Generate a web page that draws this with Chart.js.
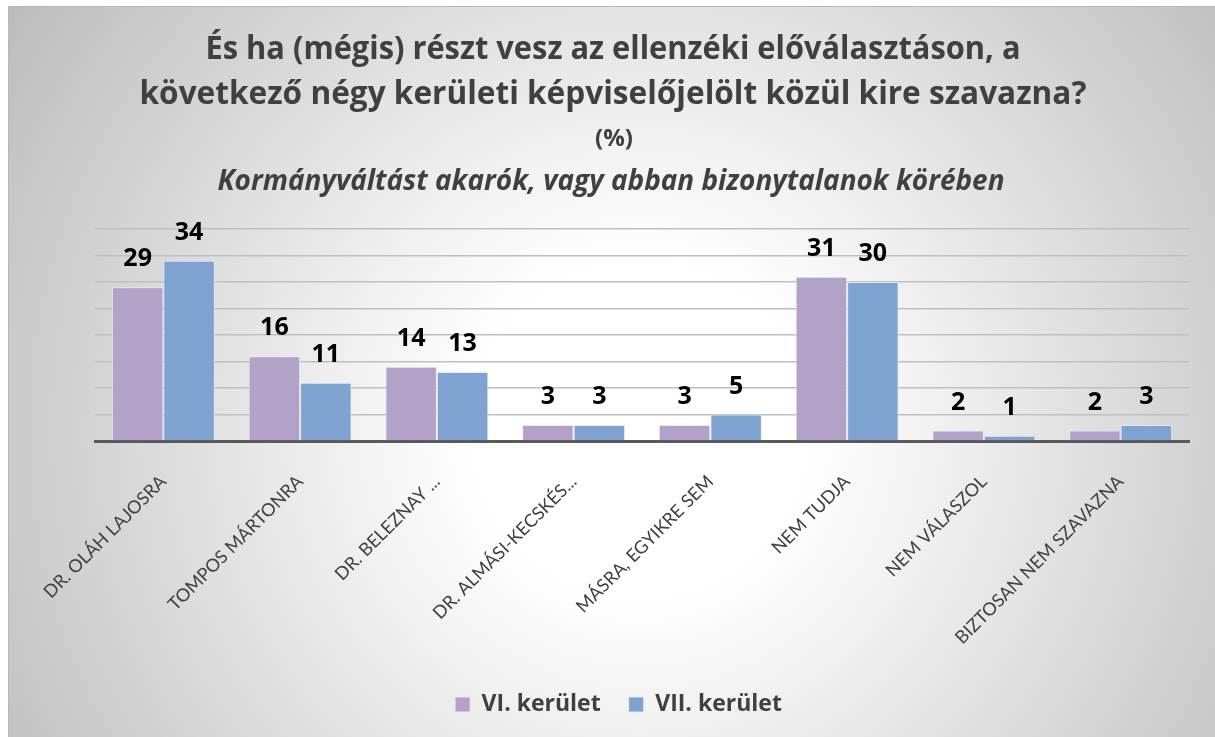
<!DOCTYPE html>
<html>
<head>
<meta charset="utf-8">
<script src="https://cdn.jsdelivr.net/npm/chart.js@4/dist/chart.umd.min.js"></script>
<style>
  html, body { margin: 0; padding: 0; background: #ffffff; }
  #wrap { width: 1215px; height: 737px; position: relative; }
</style>
</head>
<body>
<div id="wrap"><canvas id="c" width="1215" height="737"></canvas></div>
<script>
const categories = ['DR. OLÁH LAJOSRA', 'TOMPOS MÁRTONRA', 'DR. BELEZNAY ...', 'DR. ALMÁSI-KECSKÉS...', 'MÁSRA, EGYIKRE SEM', 'NEM TUDJA', 'NEM VÁLASZOL', 'BIZTOSAN NEM SZAVAZNA'];
const seriesNames = ['VI. kerület', 'VII. kerület'];
const valuesVI = [29, 16, 14, 3, 3, 31, 2, 2];
const valuesVII = [34, 11, 13, 3, 5, 30, 1, 3];
const titleLines = ['És ha (mégis) részt vesz az ellenzéki előválasztáson, a', 'következő négy kerületi képviselőjelölt közül kire szavazna?'];
const unitLine = '(%)';
const subtitleLine = 'Kormányváltást akarók, vagy abban bizonytalanok körében';

const FONT = '"Open Sans", Lato, sans-serif';
const TICKFONT = 'Lato, "Open Sans", sans-serif';

const bgPlugin = {
  id: 'bg',
  beforeDraw(chart) {
    const ctx = chart.ctx;
    ctx.save();
    ctx.fillStyle = '#ffffff';
    ctx.fillRect(0, 0, chart.width, chart.height);
    const g = ctx.createRadialGradient(640, 430, 0, 640, 430, 760);
    g.addColorStop(0, '#ffffff');
    g.addColorStop(0.22, '#ffffff');
    g.addColorStop(1, '#bcbcbc');
    ctx.fillStyle = g;
    ctx.fillRect(8, 6, chart.width - 8, chart.height - 6);
    ctx.strokeStyle = '#b8b8b8';
    ctx.lineWidth = 1;
    ctx.beginPath();
    ctx.moveTo(8.5, chart.height);
    ctx.lineTo(8.5, 6.5);
    ctx.lineTo(chart.width, 6.5);
    ctx.stroke();
    ctx.restore();
  },
  afterDraw(chart) {
    const ctx = chart.ctx;
    ctx.save();
    ctx.fillStyle = '#404040';
    ctx.textAlign = 'center';
    ctx.textBaseline = 'middle';
    ctx.font = 'bold 32px ' + FONT;
    ctx.fillText(titleLines[0], 613, 50, 815);
    ctx.fillText(titleLines[1], 613, 95, 947);
    ctx.font = 'bold 24px ' + FONT;
    ctx.fillText(unitLine, 614, 139);
    ctx.font = 'italic bold 28px ' + FONT;
    ctx.fillText(subtitleLine, 611, 182, 787);
    ctx.restore();
  }
};

const labelPlugin = {
  id: 'valueLabels',
  afterDatasetsDraw(chart) {
    const ctx = chart.ctx;
    ctx.save();
    ctx.fillStyle = '#000000';
    ctx.font = 'bold 25px ' + FONT;
    ctx.textAlign = 'center';
    ctx.textBaseline = 'middle';
    chart.data.datasets.forEach((ds, di) => {
      const meta = chart.getDatasetMeta(di);
      meta.data.forEach((el, i) => {
        ctx.fillText(String(ds.data[i]), el.x, el.y - 28);
      });
    });
    ctx.restore();
  }
};

new Chart(document.getElementById('c'), {
  type: 'bar',
  data: {
    labels: categories,
    datasets: [
      { label: seriesNames[0], data: valuesVI, backgroundColor: '#B2A2C8', borderColor: 'rgba(235,230,245,0.9)', borderWidth: 1 },
      { label: seriesNames[1], data: valuesVII, backgroundColor: '#7EA3D0', borderColor: 'rgba(225,235,248,0.9)', borderWidth: 1 }
    ]
  },
  options: {
    responsive: false,
    animation: false,
    devicePixelRatio: 1,
    layout: { padding: { top: 229, left: 22, right: 0, bottom: 11 } },
    datasets: { bar: { categoryPercentage: 0.753, barPercentage: 1 } },
    plugins: {
      title: { display: false },
      tooltip: { enabled: false },
      legend: {
        position: 'bottom',
        labels: {
          color: '#404040',
          font: { family: FONT, size: 23, weight: 'bold' },
          boxWidth: 15,
          boxHeight: 15,
          padding: 28
        }
      }
    },
    scales: {
      x: {
        grid: { display: false, drawTicks: false },
        border: { display: true, color: '#595959', width: 3 },
        ticks: {
          autoSkip: false,
          maxRotation: 45,
          minRotation: 45,
          padding: 30,
          labelOffset: 0,
          color: '#404040',
          font: { family: TICKFONT, size: 18 }
        },
        afterFit(scale) { scale.height = 224; }
      },
      y: {
        min: 0,
        max: 40,
        ticks: { display: false, stepSize: 5 },
        grid: { color: '#bfbfbf', lineWidth: 1.5, drawTicks: false },
        border: { display: false },
        afterFit(scale) { scale.width = 73; }
      },
      yRight: {
        position: 'right',
        min: 0,
        max: 40,
        ticks: { display: false },
        grid: { display: false, drawTicks: false },
        border: { display: false },
        afterFit(scale) { scale.width = 26; }
      }
    }
  },
  plugins: [bgPlugin, labelPlugin]
});
</script>
</body>
</html>
